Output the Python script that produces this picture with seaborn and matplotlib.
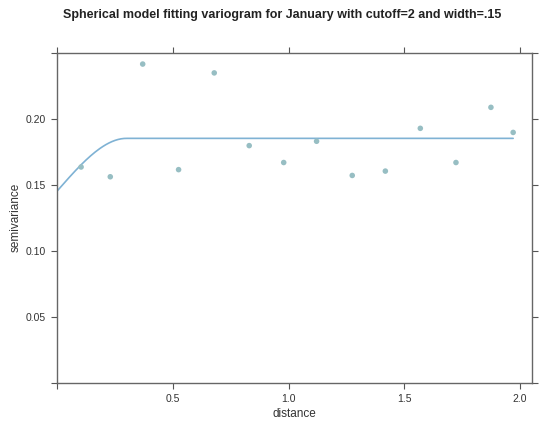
import numpy as np
import pandas as pd
import seaborn as sns
from matplotlib import pyplot as plt

distance = [0.104, 0.230, 0.370, 0.525, 0.679, 0.830, 0.979,
            1.121, 1.275, 1.418, 1.569, 1.723, 1.874, 1.970]
gamma = [0.1633, 0.1559, 0.2413, 0.1613, 0.2346, 0.1795, 0.1667,
         0.1828, 0.1569, 0.1602, 0.1926, 0.1667, 0.2085, 0.1895]

# fitted spherical model parameters
nugget = 0.145
psill = 0.040
model_range = 0.30

title = 'Spherical model fitting variogram for January with cutoff=2 and width=.15'


def spherical(h):
    r = np.clip(h / model_range, 0, 1)
    return nugget + psill * (1.5 * r - 0.5 * r ** 3)


sns.set_style('ticks')
plt.rcParams['font.family'] = ['Liberation Sans', 'DejaVu Sans']

pts_df = pd.DataFrame({'dist': distance, 'gamma': gamma})
h = np.linspace(0, max(distance), 300)
line_df = pd.DataFrame({'dist': h, 'gamma': spherical(h)})

fig = plt.figure(figsize=(5.4, 4.23), dpi=100)
ax = fig.add_axes([0.1056, 0.0957, 0.879, 0.78])

sns.lineplot(data=line_df, x='dist', y='gamma', color='#7fb2d4', linewidth=1.2, ax=ax)
sns.scatterplot(data=pts_df, x='dist', y='gamma', color='#97bec3', s=16,
                edgecolor='none', ax=ax, zorder=3)

ax.set_xlim(0, 2.05)
ax.set_ylim(0, 0.25)
ax.set_xticks([0, 0.5, 1.0, 1.5, 2.0])
ax.set_xticklabels(['', '0.5', '1.0', '1.5', '2.0'])
ax.set_yticks([0, 0.05, 0.10, 0.15, 0.20, 0.25])
ax.set_yticklabels(['', '0.05', '0.10', '0.15', '0.20', ''])
ax.tick_params(axis='both', which='both', direction='out', length=4, width=0.8,
               color='#555555', labelsize=7.5, labelcolor='#333333',
               top=True, right=True, pad=4)
for s in ax.spines.values():
    s.set_visible(True)
    s.set_color('#666666')
    s.set_linewidth(1.0)

ax.set_xlabel('distance', fontsize=8.5, color='#333333', labelpad=3)
ax.set_ylabel('semivariance', fontsize=8.5, color='#333333', labelpad=3)
fig.suptitle(title, fontsize=9, fontweight='bold', color='#222222', x=0.522, y=0.978)

fig.savefig('out.png', dpi=100)
